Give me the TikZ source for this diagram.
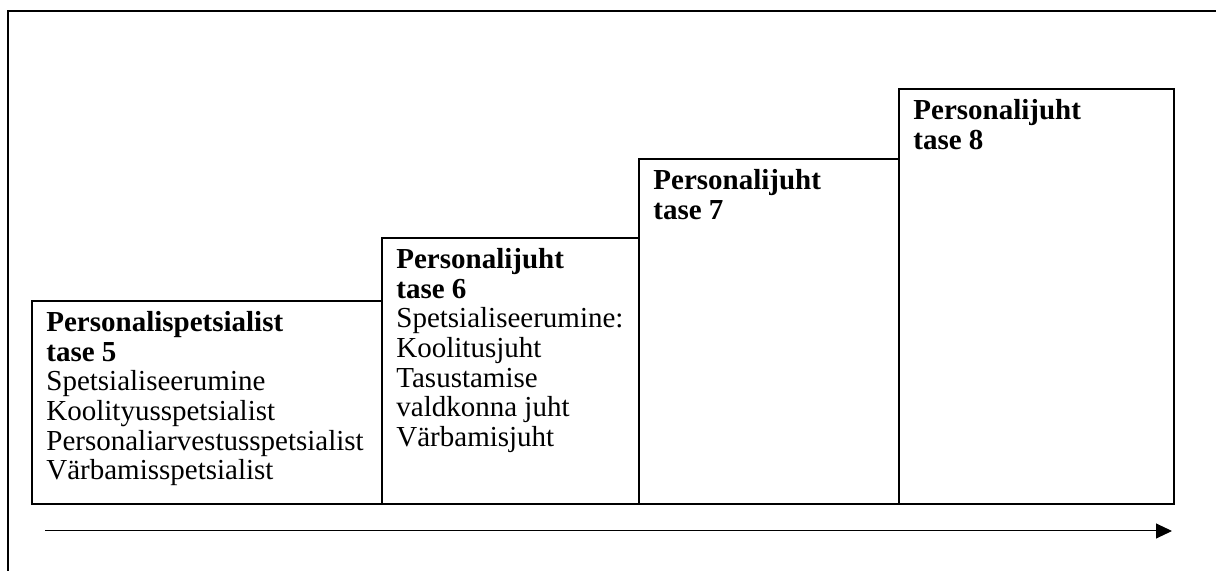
\documentclass[tikz,border=0pt]{standalone}
\usepackage{fontspec}
\setmainfont{Liberation Serif}
\usepackage{tikz}
\usetikzlibrary{arrows.meta,positioning}
\newcommand\stepfont{\fontsize{14.5}{14.8}\selectfont\lineskiplimit=-20pt\relax}
\tikzset{
  frame/.style   ={line width=1pt,draw=black},
  stepbox/.style ={draw=black,line width=1pt,anchor=south west,inner sep=0pt},
  steptext/.style={anchor=north west,align=left,inner sep=0pt,font=\stepfont},
  growth/.style  ={-{Triangle[length=8pt,width=7.5pt]},line width=0.5pt,draw=black}
}

\begin{document}
\begin{tikzpicture}[x=0.5pt,y=-0.5pt]
        \useasboundingbox (0,0) rectangle (1216,571);
        \draw[frame] (1222,11) -- (7.5,11) -- (7.5,578);
        % levels
        \node[stepbox,minimum width=175pt,minimum height=101.5pt] (t5) at (31,505) {};
        \node[stepbox,minimum width=128.5pt,minimum height=133pt] (t6) at (381,505) {};
        \node[stepbox,minimum width=130pt,minimum height=172.5pt] (t7) at (638,505) {};
        \node[stepbox,minimum width=137.5pt,minimum height=207.5pt] (t8) at (898,505) {};
        \node[steptext] (l5) at ([xshift=7.5pt,yshift=-5.6pt]t5.north west)
          {\textbf{Personalispetsialist}\\\textbf{tase 5}\\Spetsialiseerumine\\
           Koolityusspetsialist\\Personaliarvestusspetsialist\\V\"arbamisspetsialist};
        \node[steptext] (l6) at ([xshift=7.5pt,yshift=-5.6pt]t6.north west)
          {\textbf{Personalijuht}\\\textbf{tase 6}\\Spetsialiseerumine:\\
           Koolitusjuht\\Tasustamise\\valdkonna juht\\V\"arbamisjuht};
        \node[steptext] (l7) at ([xshift=7.5pt,yshift=-5.6pt]t7.north west)
          {\textbf{Personalijuht}\\\textbf{tase 7}};
        \node[steptext] (l8) at ([xshift=7.5pt,yshift=-5.6pt]t8.north west)
          {\textbf{Personalijuht}\\\textbf{tase 8}};
        % axis
        \coordinate (astart) at (45,531);
        \coordinate (aend) at (1172,531);
        \draw[growth] (astart) -- (aend);
      \end{tikzpicture}
\end{document}
